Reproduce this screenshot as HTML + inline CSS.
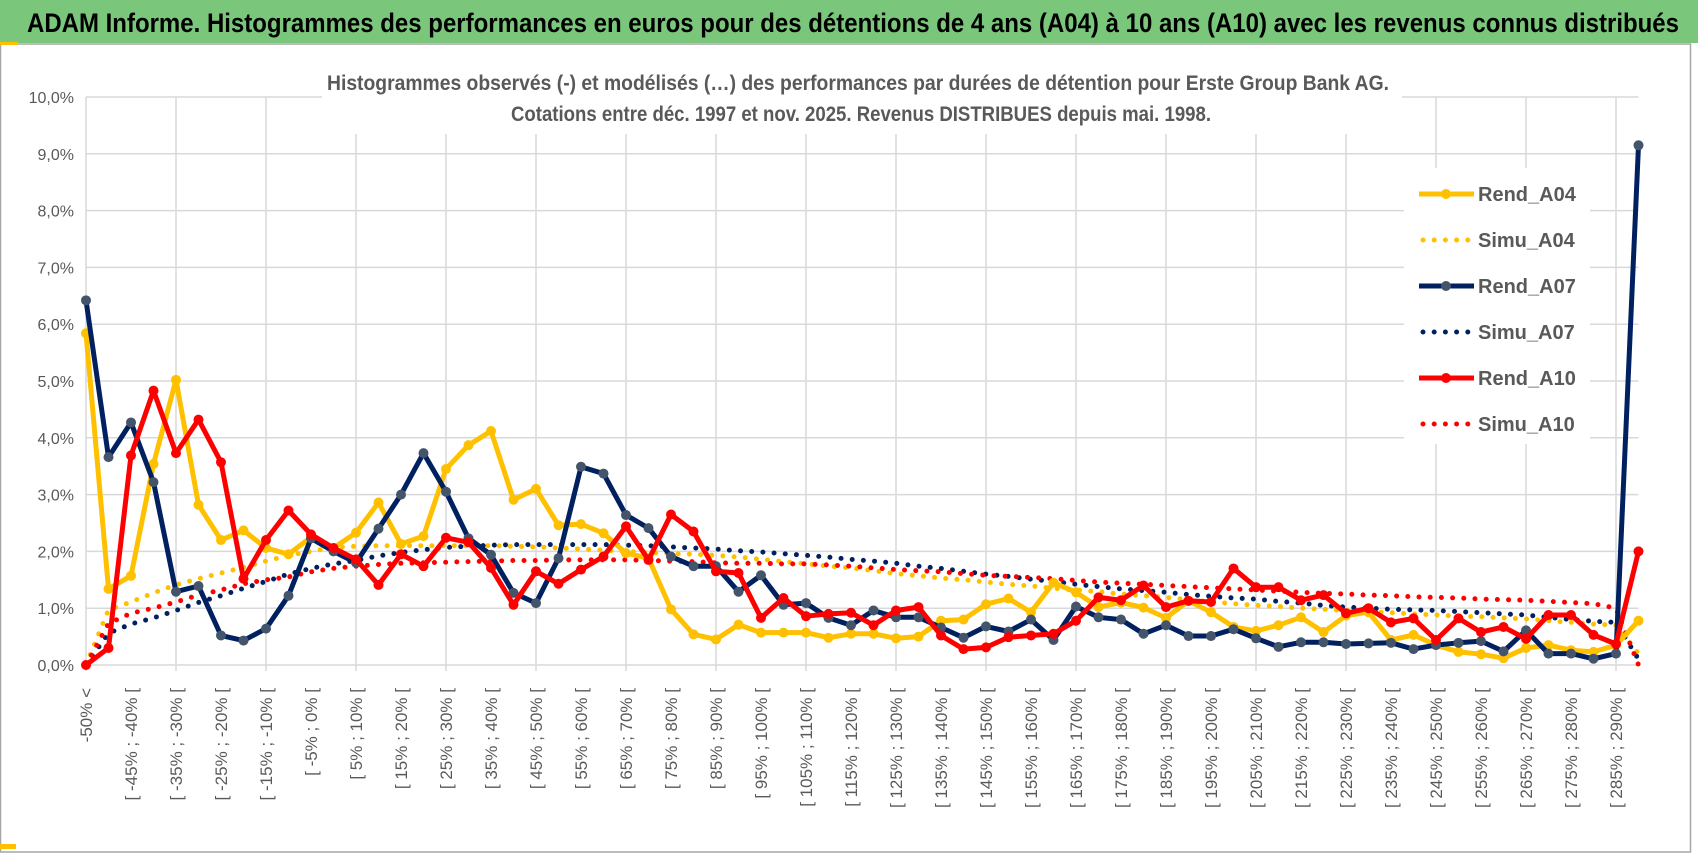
<!DOCTYPE html>
<html><head><meta charset="utf-8">
<style>
html,body{margin:0;padding:0;background:#fff;}
svg{display:block;font-family:"Liberation Sans",sans-serif;}
</style></head>
<body>
<svg id="chart" width="1698" height="854" viewBox="0 0 1698 854" xmlns="http://www.w3.org/2000/svg">
  <rect x="0" y="0" width="1698" height="854" fill="#ffffff"/>
  <rect x="0.5" y="44" width="1690" height="808" fill="#ffffff" stroke="#a6a6a6" stroke-width="1.5"/>
  <rect x="0" y="0" width="1698" height="43" fill="#7ac77c"/>
  <rect x="0" y="42" width="18" height="3" fill="#ffc000"/>
  <rect x="0" y="844" width="16" height="5" fill="#ffc000"/>
  <text x="27" y="32" font-family="'Liberation Sans Narrow','Liberation Sans',sans-serif" font-weight="bold" font-size="27" fill="#000" textLength="1652" lengthAdjust="spacingAndGlyphs">ADAM Informe. Histogrammes des performances en euros pour des détentions de 4 ans (A04) à 10 ans (A10) avec les revenus connus distribués</text>
  <g id="grid"></g>
  <rect x="322" y="60" width="1080" height="74" fill="#fff"/>
  <text x="858" y="90" text-anchor="middle" font-family="'Liberation Sans Narrow','Liberation Sans',sans-serif" font-weight="bold" font-size="21" fill="#595959" textLength="1062" lengthAdjust="spacingAndGlyphs">Histogrammes observés (-) et modélisés (…) des performances par durées de détention pour Erste Group Bank AG.</text>
  <text x="861" y="121" text-anchor="middle" font-family="'Liberation Sans Narrow','Liberation Sans',sans-serif" font-weight="bold" font-size="21" fill="#595959" textLength="700" lengthAdjust="spacingAndGlyphs">Cotations entre déc. 1997 et nov. 2025. Revenus DISTRIBUES depuis mai. 1998.</text>
  <g id="yaxis"></g>
  <g id="xaxis"></g>
  <g id="series"></g>
  <g id="legend"></g>
</svg>
<script>
const rendA04 = [5.84,1.34,1.57,3.54,5.02,2.82,2.2,2.37,2.06,1.95,
2.25,2.06,2.33,2.86,2.13,2.27,3.45,3.87,4.12,2.91,
3.1,2.46,2.48,2.32,1.97,1.88,0.98,0.54,0.45,0.71,
0.57,0.57,0.57,0.48,0.55,0.55,0.47,0.5,0.78,0.8,
1.07,1.17,0.93,1.45,1.28,1.02,1.1,1.01,0.83,1.13,
0.93,0.67,0.6,0.7,0.84,0.58,0.87,0.93,0.44,0.53,
0.35,0.23,0.19,0.12,0.3,0.35,0.26,0.23,0.35,0.78];
const rendA07 = [6.42,3.66,4.27,3.22,1.29,1.39,0.52,0.43,0.64,1.22,
2.23,2.0,1.8,2.4,3.0,3.73,3.05,2.23,1.94,1.27,
1.09,1.88,3.49,3.37,2.64,2.41,1.91,1.74,1.74,1.29,
1.58,1.06,1.09,0.83,0.7,0.96,0.84,0.84,0.66,0.48,
0.68,0.59,0.8,0.44,1.03,0.84,0.8,0.55,0.7,0.51,
0.51,0.63,0.47,0.32,0.4,0.4,0.37,0.38,0.39,0.28,
0.35,0.39,0.42,0.24,0.61,0.2,0.2,0.11,0.2,9.15];
const rendA10 = [0,0.3,3.69,4.83,3.73,4.32,3.57,1.52,2.2,2.72,
2.3,2.06,1.86,1.41,1.95,1.74,2.24,2.16,1.71,1.06,
1.65,1.43,1.68,1.91,2.44,1.85,2.65,2.35,1.65,1.62,
0.83,1.18,0.86,0.9,0.92,0.7,0.96,1.02,0.52,0.28,
0.31,0.49,0.52,0.55,0.78,1.19,1.14,1.4,1.02,1.13,
1.11,1.7,1.37,1.37,1.14,1.23,0.91,1.0,0.75,0.82,
0.44,0.82,0.58,0.67,0.46,0.88,0.88,0.53,0.37,2.0];
const simuA04 = [0,0.97,1.11,1.27,1.41,1.52,1.62,1.72,1.83,1.93,
2.0,2.07,2.09,2.1,2.1,2.1,2.1,2.1,2.1,2.09,
2.08,2.06,2.04,2.02,2.0,1.98,1.96,1.95,1.93,1.9,
1.86,1.82,1.78,1.74,1.71,1.66,1.61,1.57,1.53,1.5,
1.46,1.42,1.39,1.35,1.32,1.29,1.25,1.22,1.19,1.15,
1.11,1.08,1.05,1.03,1.0,0.98,0.96,0.94,0.92,0.9,
0.88,0.86,0.85,0.83,0.81,0.78,0.75,0.72,0.7,0.2];
const simuA07 = [0,0.56,0.72,0.83,0.96,1.1,1.22,1.35,1.47,1.6,
1.7,1.78,1.84,1.92,1.98,2.03,2.07,2.09,2.11,2.12,
2.12,2.12,2.12,2.12,2.11,2.1,2.08,2.06,2.04,2.01,
1.99,1.96,1.93,1.9,1.86,1.83,1.79,1.74,1.7,1.65,
1.6,1.56,1.51,1.47,1.42,1.38,1.34,1.31,1.28,1.24,
1.21,1.18,1.16,1.12,1.09,1.05,1.02,1.0,0.98,0.97,
0.96,0.94,0.92,0.9,0.88,0.84,0.8,0.77,0.75,0.1];
const simuA10 = [0,0.73,0.91,1.0,1.11,1.23,1.32,1.43,1.5,1.55,
1.64,1.7,1.74,1.77,1.79,1.8,1.81,1.82,1.83,1.84,
1.84,1.85,1.85,1.85,1.85,1.84,1.83,1.82,1.8,1.79,
1.79,1.78,1.78,1.76,1.74,1.71,1.68,1.66,1.64,1.61,
1.58,1.56,1.54,1.52,1.49,1.46,1.44,1.42,1.4,1.38,
1.36,1.34,1.32,1.3,1.28,1.26,1.25,1.23,1.22,1.2,
1.19,1.18,1.16,1.15,1.14,1.12,1.1,1.08,1.0,0.0];
const yTicks = [0,1,2,3,4,5,6,7,8,9,10];
const yTickLabels = ["0,0%","1,0%","2,0%","3,0%","4,0%","5,0%","6,0%","7,0%","8,0%","9,0%","10,0%"];
const categories = ["-50% <"];
for (let lo = -50; lo <= 290; lo += 5) categories.push("[ " + lo + "% ; " + (lo + 5) + "% [");

const NS = "http://www.w3.org/2000/svg";
const X0 = 86, DX = 22.5, Y0 = 665, PPU = 56.8;
function xs(i){ return X0 + i * DX; }
function ys(v){ return Y0 - v * PPU; }
function mk(tag, attrs, parent){
  const e = document.createElementNS(NS, tag);
  for (const k in attrs) e.setAttribute(k, attrs[k]);
  parent.appendChild(e);
  return e;
}
const grid = document.getElementById('grid');
const xEnd = xs(categories.length - 1);
yTicks.forEach(function(t){
  const l = mk('line', {x1: X0, x2: xEnd, y1: ys(t), y2: ys(t), stroke: '#d9d9d9', 'stroke-width': 1.5}, grid);
  
  
});
for (let i = 0; i < categories.length; i += 4) {
  const l = mk('line', {x1: xs(i), x2: xs(i), y1: ys(10), y2: ys(0) + 6, stroke: '#d9d9d9', 'stroke-width': 1.5}, grid);
  
  
}
const yaxis = document.getElementById('yaxis');
yTicks.forEach(function(t, k){
  const tx = mk('text', {x: 74, y: ys(t) + 6, 'text-anchor': 'end', 'font-size': 16, fill: '#595959'}, yaxis);
  tx.textContent = yTickLabels[k];
  
  
});
const xaxis = document.getElementById('xaxis');
categories.forEach(function(c, i){
  if (i % 2 !== 0) return;
  const x = xs(i) + 6, y = 688;
  const tx = mk('text', {x: x, y: y, 'text-anchor': 'end', 'font-size': 17, fill: '#595959', transform: 'rotate(-90 ' + x + ' ' + y + ')'}, xaxis);
  tx.textContent = c;
  
  
});
const seriesG = document.getElementById('series');
function ptsOf(arr){ return arr.map(function(v, i){ return xs(i).toFixed(1) + ',' + ys(v).toFixed(1); }).join(' '); }
function dotted(arr, color, name){
  const p = mk('polyline', {points: ptsOf(arr), fill: 'none', stroke: color, 'stroke-width': 5, 'stroke-linecap': 'round', 'stroke-dasharray': '0 11.2'}, seriesG);
  
  
}
function solid(arr, color, mcolor, name){
  const g = mk('g', {}, seriesG);
  
  
  mk('polyline', {points: ptsOf(arr), fill: 'none', stroke: color, 'stroke-width': 5, 'stroke-linejoin': 'round'}, g);
  arr.forEach(function(v, i){
    const c = mk('circle', {cx: xs(i), cy: ys(v), r: 5, fill: mcolor}, g);
    
    
  });
}
dotted(simuA04, '#ffc000', 'simu-a04-line');
dotted(simuA07, '#002060', 'simu-a07-line');
dotted(simuA10, '#ff0000', 'simu-a10-line');
solid(rendA04, '#ffc000', '#ffc000', 'rend-a04-line');
solid(rendA07, '#002060', '#44546a', 'rend-a07-line');
solid(rendA10, '#ff0000', '#ff0000', 'rend-a10-line');

const legend = document.getElementById('legend');
const lbg = mk('rect', {x: 1404, y: 168, width: 186, height: 276, fill: '#fff'}, legend);


const legItems = [
  ['Rend_A04', '#ffc000', '#ffc000', false],
  ['Simu_A04', '#ffc000', null, true],
  ['Rend_A07', '#002060', '#44546a', false],
  ['Simu_A07', '#002060', null, true],
  ['Rend_A10', '#ff0000', '#ff0000', false],
  ['Simu_A10', '#ff0000', null, true]
];
legItems.forEach(function(it, k){
  const y = 194 + k * 46;
  const g = mk('g', {}, legend);
  
  
  if (it[3]) {
    mk('line', {x1: 1423, x2: 1474, y1: y, y2: y, stroke: it[1], 'stroke-width': 5, 'stroke-linecap': 'round', 'stroke-dasharray': '0 11.2'}, g);
  } else {
    mk('line', {x1: 1419, x2: 1474, y1: y, y2: y, stroke: it[1], 'stroke-width': 5}, g);
    mk('circle', {cx: 1446, cy: y, r: 5, fill: it[2]}, g);
  }
  const t = mk('text', {x: 1478, y: y + 7, 'font-size': 20, 'font-weight': 'bold', fill: '#595959', 'font-family': "'Liberation Sans Narrow','Liberation Sans',sans-serif"}, g);
  t.textContent = it[0];
});
</script>
</body></html>
